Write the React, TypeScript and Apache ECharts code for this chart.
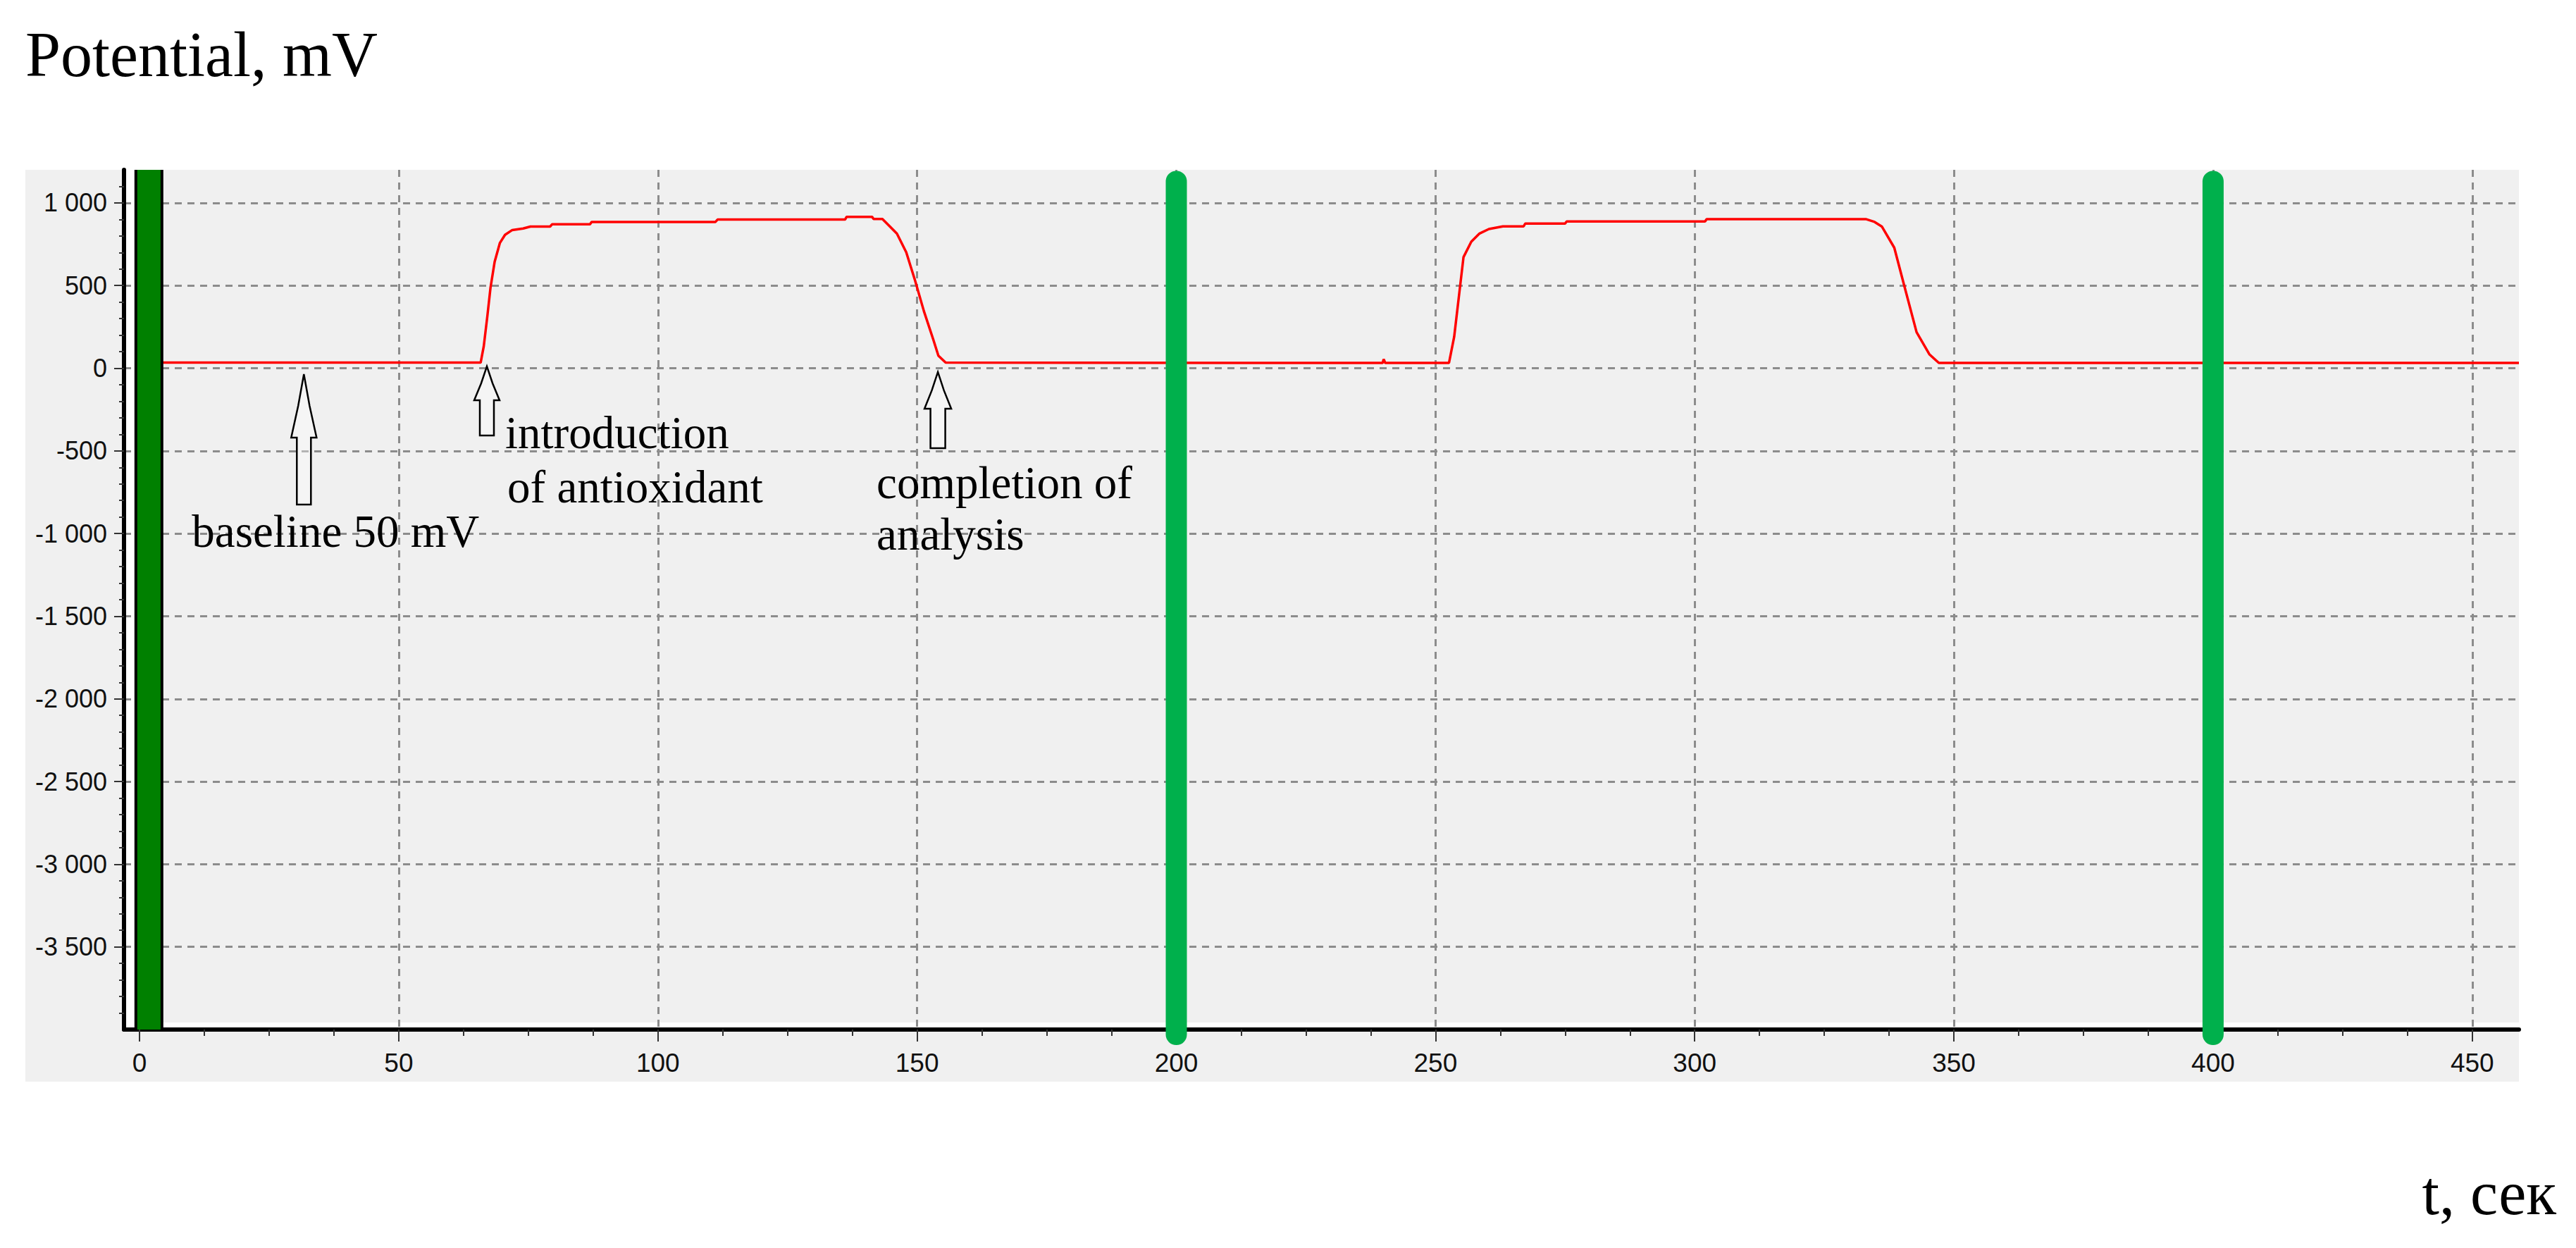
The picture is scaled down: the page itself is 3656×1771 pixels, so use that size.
import React, { useEffect, useRef } from "react";
import * as echarts from "echarts";

// ---- Data ----
const timeSec = [
  0, 65.8, 66.4, 67.1, 67.7, 68.5, 69.5, 70.5, 71.9, 74.0,
  75.4, 79.2, 79.6, 86.9, 87.2, 111.1, 111.5, 136.1, 136.4, 141.3,
  141.6, 143.3, 146.1, 147.9, 149.6, 151.3, 153.1, 154.1, 155.5, 239.8,
  240.0, 240.3, 252.6, 253.6, 255.4, 256.9, 258.5, 260.3, 263.0, 267.0,
  267.3, 275.0, 275.3, 302.0, 302.3, 333.0, 334.7, 336.1, 338.5, 340.4,
  342.8, 345.3, 347.1, 459,
];
const potentialMv = [
  34, 34, 133, 317, 487, 644, 757, 807, 836, 845,
  857, 857, 871, 871, 885, 885, 899, 899, 916, 916,
  903, 903, 814, 701, 531, 346, 175, 76, 34, 32,
  55, 32, 32, 190, 672, 765, 815, 842, 858, 858,
  875, 875, 888, 888, 902, 902, 885, 857, 729, 502,
  218, 83, 32, 32,
];

const startMarkerTime = 1.8;
const injectionMarkerTimes = [200, 400];
const markerSpanMv = [1130, -4030];
const plotSpanMv = [1200, -4000];

const xMajorTicks = [0, 50, 100, 150, 200, 250, 300, 350, 400, 450];
const xMinorTicks = xMajorTicks.flatMap((t) => [t + 12.5, t + 25, t + 37.5]).filter((t) => t < 459);
const yMajorTicks = [-3500, -3000, -2500, -2000, -1500, -1000, -500, 0, 500, 1000];
const yMinorTicks: number[] = [];
for (let v = -3900; v <= 1100; v += 100) if (v % 500 !== 0) yMinorTicks.push(v);

const yTitle = "Potential, mV";
const xTitle = "t, сек";

const annotations = [
  { time: 31.7, mv: -36, lines: ["baseline 50 mV"] },
  { time: 67.0, mv: 11, lines: ["introduction", "of antioxidant"] },
  { time: 154.0, mv: -23, lines: ["completion of", "analysis"] },
];

// ---- Layout / style (pixels) ----
const arrowGeom = [
  { head: 90, hw: 18, sw: 10, len: 185, text: [[-159, 223]] },
  { head: 48, hw: 18, sw: 10, len: 98, text: [[26, 94], [29, 171]] },
  { head: 52, hw: 19, sw: 10.5, len: 108, text: [[-87, 157], [-87, 230]] },
];

const SANS = "'Liberation Sans', Arial, sans-serif";
const SERIF = "'Liberation Serif', 'Times New Roman', serif";

function fmtMv(v: number): string {
  const a = Math.abs(v);
  const s = a >= 1000 ? `${Math.floor(a / 1000)} ${String(a % 1000).padStart(3, "0")}` : String(a);
  return (v < 0 ? "-" : "") + s;
}

export default function App() {
  const ref = useRef<HTMLDivElement>(null);

  useEffect(() => {
    document.body.style.margin = "0";
    if (!ref.current) return;
    const chart = echarts.init(ref.current, null, { renderer: "svg" });

    const tickStyle = { color: "#333", width: 2 };
    const gridLine = { color: "#8c8c8c", width: 3, type: [10, 8] as any };

    const series: any[] = [
      {
        type: "line",
        data: timeSec.map((t, i) => [t, potentialMv[i]]),
        showSymbol: false,
        symbol: "none",
        lineStyle: { color: "#ff0000", width: 3.5 },
        z: 3,
        silent: true,
      },
      {
        type: "line",
        data: [[startMarkerTime, plotSpanMv[0]], [startMarkerTime, plotSpanMv[1]]],
        symbol: "none",
        lineStyle: { color: "#000", width: 41, cap: "butt" },
        z: 4,
        silent: true,
      },
      {
        type: "line",
        data: [[startMarkerTime, plotSpanMv[0]], [startMarkerTime, plotSpanMv[1]]],
        symbol: "none",
        lineStyle: { color: "#008000", width: 33, cap: "butt" },
        z: 5,
        silent: true,
      },
      ...injectionMarkerTimes.map((t) => ({
        type: "line",
        data: [[t, markerSpanMv[0]], [t, markerSpanMv[1]]],
        symbol: "none",
        clip: false,
        lineStyle: { color: "#00b04c", width: 30, cap: "round" },
        z: 5,
        silent: true,
      })),
    ];

    chart.setOption({
      animation: false,
      backgroundColor: "#ffffff",
      grid: { left: 176, top: 241, width: 3399, height: 1220, outerBoundsMode: "none", containLabel: false },
      xAxis: [
        {
          type: "value",
          min: -3,
          max: 459,
          position: "bottom",
          axisLine: { onZero: false, lineStyle: { color: "#000", width: 6 } },
          axisTick: { customValues: xMajorTicks, length: 17, lineStyle: tickStyle },
          axisLabel: { customValues: xMajorTicks, margin: 29, fontSize: 37, fontFamily: SANS, color: "#111" },
          splitLine: { show: true, lineStyle: gridLine },
        },
        {
          type: "value",
          min: -3,
          max: 459,
          position: "bottom",
          axisLine: { show: false, onZero: false },
          axisTick: { customValues: xMinorTicks, length: 9, lineStyle: tickStyle },
          axisLabel: { show: false },
          splitLine: { show: false },
        },
      ],
      yAxis: [
        {
          type: "value",
          min: -4000,
          max: 1200,
          position: "left",
          axisLine: { onZero: false, lineStyle: { color: "#000", width: 6 } },
          axisTick: { customValues: yMajorTicks, length: 14, lineStyle: tickStyle },
          axisLabel: { customValues: yMajorTicks, formatter: fmtMv, margin: 24, fontSize: 36, fontFamily: SANS, color: "#111" },
          splitLine: { show: true, lineStyle: gridLine },
        },
        {
          type: "value",
          min: -4000,
          max: 1200,
          position: "left",
          axisLine: { show: false, onZero: false },
          axisTick: { customValues: yMinorTicks, length: 7, lineStyle: tickStyle },
          axisLabel: { show: false },
          splitLine: { show: false },
        },
      ],
      series,
    });

    const toPx = (t: number, v: number) =>
      chart.convertToPixel({ xAxisIndex: 0, yAxisIndex: 0 }, [t, v]) as number[];

    const topLeft = toPx(-3, 1200);
    const bottomRight = toPx(459, -4000);
    const barLeft = toPx(startMarkerTime, 0)[0] - 20;

    const graphics: any[] = [
      {
        type: "rect",
        z: -100,
        silent: true,
        shape: { x: 36, y: topLeft[1], width: bottomRight[0] - 36, height: 1535 - topLeft[1] },
        style: { fill: "#f0f0f0" },
      },
      {
        type: "rect",
        z: -90,
        silent: true,
        shape: { x: topLeft[0], y: topLeft[1], width: barLeft - topLeft[0], height: bottomRight[1] - topLeft[1] },
        style: { fill: "#ffffff" },
      },
      {
        type: "rect",
        z: -90,
        silent: true,
        shape: { x: topLeft[0], y: bottomRight[1] - 10, width: bottomRight[0] - topLeft[0], height: 10 },
        style: { fill: "#ffffff" },
      },
      {
        type: "text",
        z: 20,
        style: { text: yTitle, x: 36, y: 77, font: `90px ${SERIF}`, fill: "#000", textAlign: "left", textVerticalAlign: "middle" },
      },
      {
        type: "text",
        z: 20,
        style: { text: xTitle, x: 3628, y: 1693, font: `88px ${SERIF}`, fill: "#000", textAlign: "right", textVerticalAlign: "middle" },
      },
    ];

    annotations.forEach((a, i) => {
      const g = arrowGeom[i];
      const [tx, ty] = toPx(a.time, a.mv);
      const pts = [
        [tx, ty],
        [tx + g.hw * 0.45, ty + g.head * 0.5],
        [tx + g.hw, ty + g.head],
        [tx + g.sw, ty + g.head],
        [tx + g.sw, ty + g.len],
        [tx - g.sw, ty + g.len],
        [tx - g.sw, ty + g.head],
        [tx - g.hw, ty + g.head],
        [tx - g.hw * 0.45, ty + g.head * 0.5],
      ];
      graphics.push({
        type: "polygon",
        z: 20,
        silent: true,
        shape: { points: pts },
        style: { fill: "rgba(255,255,255,0.35)", stroke: "#000", lineWidth: 2.5 },
      });
      a.lines.forEach((line, j) => {
        const [dx, dy] = g.text[j];
        graphics.push({
          type: "text",
          z: 20,
          silent: true,
          style: {
            text: line,
            x: tx + dx,
            y: ty + dy,
            font: `65px ${SERIF}`,
            fill: "#000",
            textAlign: "left",
            textVerticalAlign: "middle",
          },
        });
      });
    });

    chart.setOption({ graphic: graphics });

    return () => chart.dispose();
  }, []);

  return <div ref={ref} style={{ width: 3656, height: 1771 }} />;
}
